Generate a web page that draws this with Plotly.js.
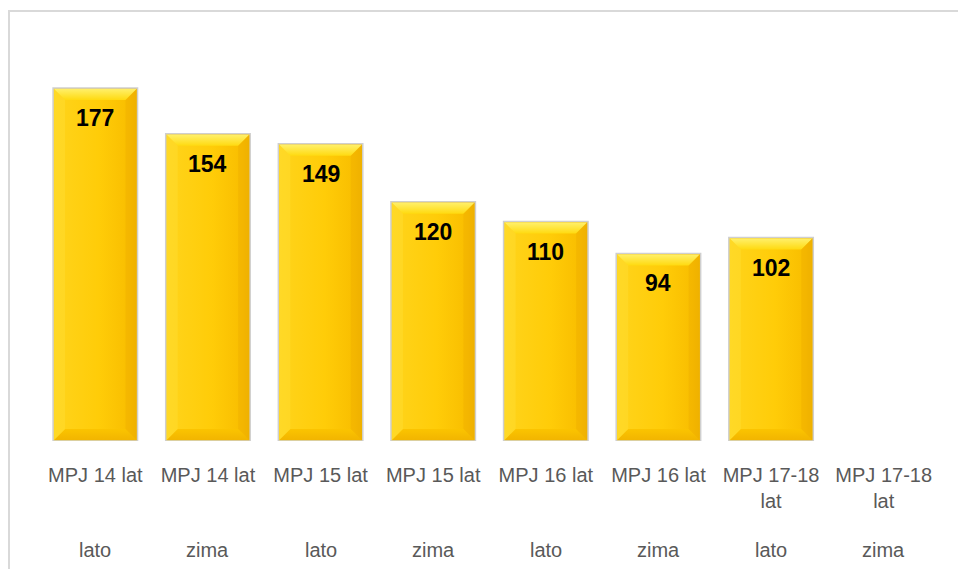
<!DOCTYPE html>
<html>
<head>
<meta charset="utf-8">
<script src="https://cdn.plot.ly/plotly-3.0.1.min.js"></script>
<style>html,body{margin:0;padding:0;background:#fff;}#chart{width:958px;height:569px;}</style>
</head>
<body>
<div id="chart"></div>
<script>
var groups = ["MPJ 14 lat", "MPJ 14 lat", "MPJ 15 lat", "MPJ 15 lat", "MPJ 16 lat", "MPJ 16 lat", "MPJ 17-18<br>lat", "MPJ 17-18<br>lat"];
var seasons = ["lato", "zima", "lato", "zima", "lato", "zima", "lato", "zima"];
var values = [177, 154, 149, 120, 110, 94, 102, null];
var categories = groups.map(function(g, i){ return "c" + i; });

var bars = {
  type: "bar",
  x: categories,
  y: values,
  marker: {color: "#FFC90A", line: {color: "#cfcfcf", width: 1.5}},
  hoverinfo: "skip"
};

var annotations = [];
values.forEach(function(v, i){
  if (v !== null) {
    annotations.push({x: categories[i], y: v, xref: "x", yref: "y", text: "<b>" + v + "</b>",
      showarrow: false, yanchor: "middle", yshift: -30,
      font: {family: "Liberation Sans, Arial, sans-serif", size: 23, color: "#000"}});
  }
});
seasons.forEach(function(s, i){
  annotations.push({x: categories[i], y: -0.2876, xref: "x", yref: "paper", text: s,
    showarrow: false, yanchor: "middle",
    font: {family: "Liberation Sans, Arial, sans-serif", size: 20, color: "#595959"}});
});

var layout = {
  width: 958, height: 569,
  margin: {l: 39, r: 18, t: 62, b: 128},
  paper_bgcolor: "#fff", plot_bgcolor: "#fff",
  showlegend: false,
  bargap: 0.25,
  xaxis: {
    type: "category",
    tickvals: categories,
    ticktext: groups,
    showline: false, showgrid: false, zeroline: false, ticks: "",
    ticklabelstandoff: 20,
    tickfont: {family: "Liberation Sans, Arial, sans-serif", size: 20, color: "#595959"}
  },
  yaxis: {range: [0, 190], visible: false},
  annotations: annotations,
  shapes: [{type: "rect", xref: "paper", yref: "paper", x0: -0.0333, x1: 1.2, y0: -0.6, y1: 1.1346,
    line: {color: "#d9d9d9", width: 2}, fillcolor: "rgba(0,0,0,0)", layer: "below"}]
};

function mkGrad(defs, ns, id, vertical, stops) {
  var grad = document.createElementNS(ns, "linearGradient");
  grad.setAttribute("id", id);
  grad.setAttribute("x1", "0"); grad.setAttribute("y1", "0");
  grad.setAttribute("x2", vertical ? "0" : "1"); grad.setAttribute("y2", vertical ? "1" : "0");
  stops.forEach(function(st){
    var s = document.createElementNS(ns, "stop");
    s.setAttribute("offset", st[0]); s.setAttribute("stop-color", st[1]);
    grad.appendChild(s);
  });
  defs.appendChild(grad);
}

Plotly.newPlot("chart", [bars], layout, {staticPlot: true}).then(function(gd){
  var svg = gd.querySelector("svg.main-svg");
  var ns = "http://www.w3.org/2000/svg";
  var defs = svg.querySelector("defs") || svg.insertBefore(document.createElementNS(ns, "defs"), svg.firstChild);
  mkGrad(defs, ns, "barGrad", false, [["0", "#FFD41C"], ["0.55", "#FFCC08"], ["0.9", "#F9BE00"], ["1", "#F0B400"]]);
  mkGrad(defs, ns, "topGrad", true, [["0", "#FFF06A"], ["1", "#FFDA10"]]);
  mkGrad(defs, ns, "botGrad", true, [["0", "#FBC400"], ["1", "#F2B500"]]);
  gd.querySelectorAll(".bars .point path").forEach(function(p){
    p.style.fill = "url(#barGrad)";
    var bb = p.getBBox();
    if (!bb.width) return;
    var x0 = bb.x + 1, x1 = bb.x + bb.width - 1, y0 = bb.y + 1, y1 = bb.y + bb.height - 1;
    var b = 11;
    var parent = p.parentNode;
    function poly(pts, fill) {
      var pg = document.createElementNS(ns, "polygon");
      pg.setAttribute("points", pts.map(function(q){ return q[0] + "," + q[1]; }).join(" "));
      pg.setAttribute("fill", fill);
      parent.appendChild(pg);
    }
    poly([[x0, y0], [x1, y0], [x1 - b, y0 + b], [x0 + b, y0 + b]], "url(#topGrad)");
    poly([[x0, y1], [x1, y1], [x1 - b, y1 - b], [x0 + b, y1 - b]], "url(#botGrad)");
    poly([[x1, y0], [x1, y1], [x1 - b, y1 - b], [x1 - b, y0 + b]], "rgba(235,170,0,0.35)");
    poly([[x0, y0], [x0, y1], [x0 + b, y1 - b], [x0 + b, y0 + b]], "rgba(255,225,60,0.35)");
  });
});
</script>
</body>
</html>
